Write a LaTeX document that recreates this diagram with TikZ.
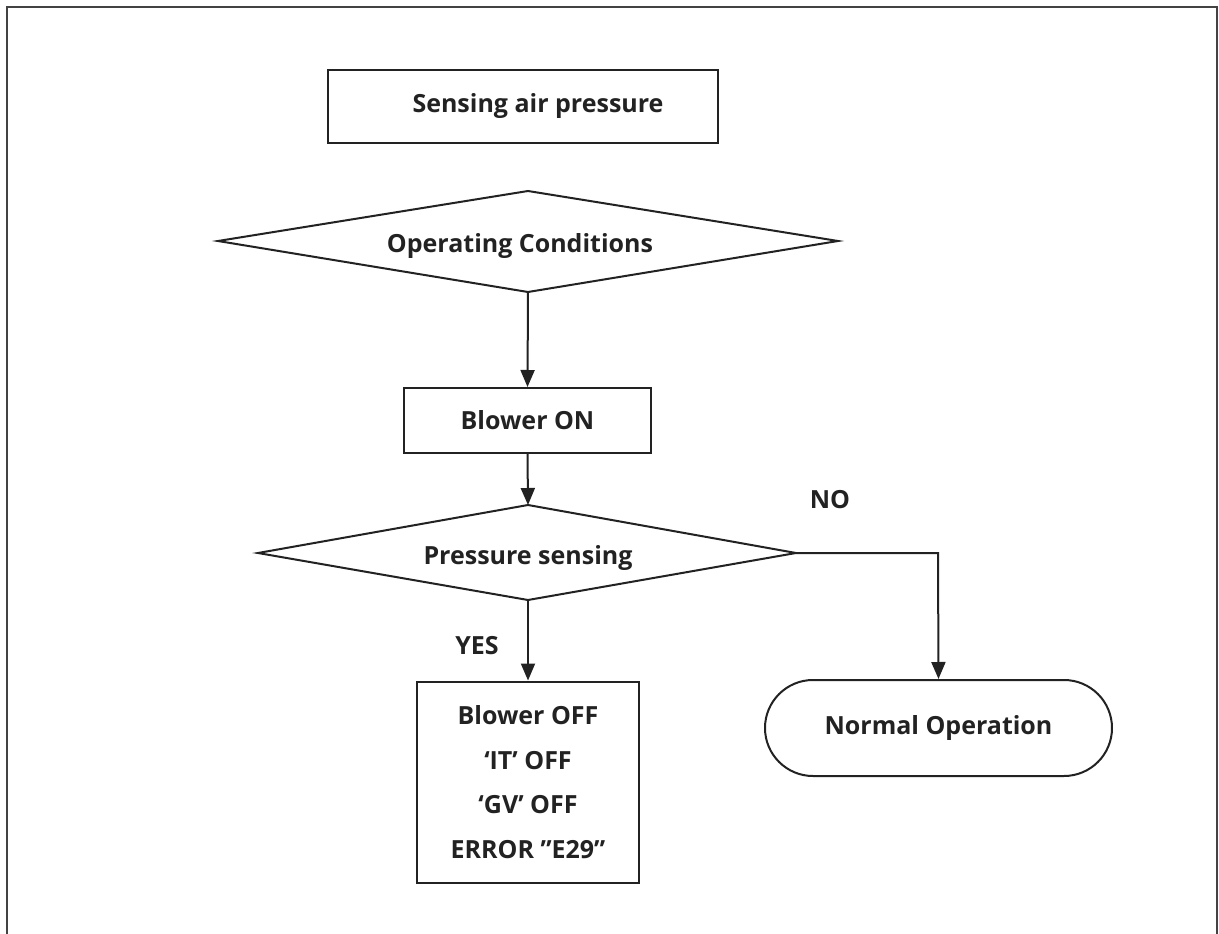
\documentclass[tikz,border=0pt]{standalone}
\usepackage{fontspec}
\setmainfont{Open Sans}[BoldFont={Open Sans Bold}]
\usetikzlibrary{arrows.meta,shapes.geometric}
\definecolor{ink}{HTML}{222222}
\begin{document}
\begin{tikzpicture}[x=1pt,y=-1pt,
  every node/.style={font=\bfseries\fontsize{25}{30}\selectfont, text=ink},
  box/.style={draw=ink, line width=2pt, rectangle, inner sep=0pt},
  conn/.style={draw=ink, line width=2pt, -{Triangle[length=17pt,width=14pt]}},
  lbl/.style={inner sep=0pt}
]
\useasboundingbox (0,0) rectangle (1219,934);
\draw[ink!85, line width=2.4pt] (7,940) -- (7,7) -- (1217,7) -- (1217,940);

\node[box, minimum width=390pt, minimum height=73pt] (sense) at (523,106.5) {};
\node[lbl] (sensetxt) at (538,106) {Sensing air pressure};

\draw[ink, line width=2pt] (218,241) coordinate (ocL) -- (528,191) coordinate (ocT) -- (838,241) coordinate (ocR) -- (528,292) coordinate (ocB) -- cycle;
\node[lbl] (oc) at (520,246) {Operating Conditions};

\node[box, minimum width=247pt, minimum height=65pt] (blon) at (527.5,420.5) {Blower ON};

\draw[ink, line width=2pt] (258,553) coordinate (psL) -- (528,505) coordinate (psT) -- (796,553) coordinate (psR) -- (528,600) coordinate (psB) -- cycle;
\node[lbl] (ps) at (528,558) {Pressure sensing};

\node[box, minimum width=222pt, minimum height=201pt, align=center, font=\bfseries\fontsize{25}{44.7}\selectfont] (off) at (528,782) {Blower OFF\\‘IT’ OFF\\‘GV’ OFF\\ERROR ”E29”};

\node[draw=ink, line width=2pt, rounded corners=48pt, minimum width=347pt, minimum height=96pt] (norm) at (938.5,728) {Normal Operation};

\draw[conn] (ocB) -- (blon.north);
\draw[conn] (blon.south) -- (psT);
\draw[conn] (psB) -- (off.north);
\draw[conn] (psR) -- (938,553) -- (norm.north);

\node[lbl] (yes) at (477,646) {YES};
\node[lbl] (no) at (830,500) {NO};
\end{tikzpicture}
\end{document}
